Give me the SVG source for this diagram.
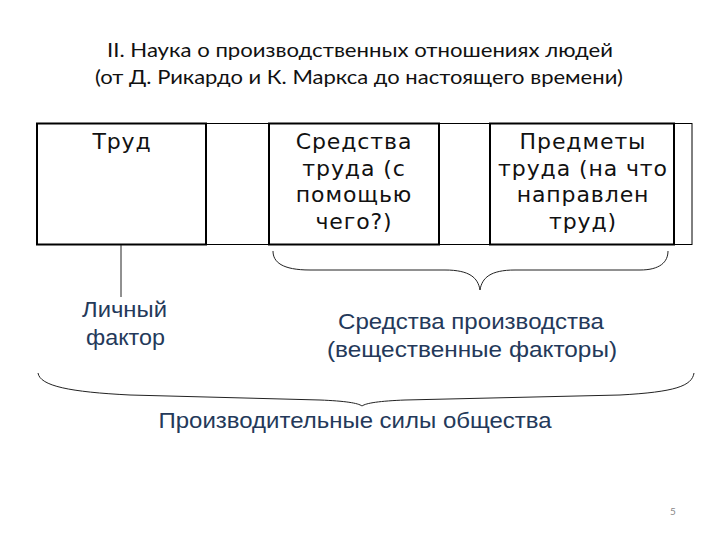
<svg xmlns="http://www.w3.org/2000/svg" width="720" height="540" viewBox="0 0 720 540">
<style>
.title{font-family:Lato,"Open Sans","Liberation Sans",sans-serif;font-size:20px;fill:#111;text-anchor:middle}
.box{fill:#fff;stroke:#000;stroke-width:2}
.frame{fill:none;stroke:#000;stroke-width:1}
.bt{font-family:"DejaVu Sans",Verdana,sans-serif;font-size:22px;letter-spacing:0.9px;fill:#111;text-anchor:middle}
.lt{font-family:"Liberation Sans",Arial,sans-serif;font-size:21.5px;fill:#24395a;text-anchor:middle}
.ln{fill:none;stroke:#222;stroke-width:1}
</style>
<rect width="720" height="540" fill="#fff"/>
<g id="title">
<text class="title" x="360" y="57" textLength="506" lengthAdjust="spacingAndGlyphs">II. Наука о производственных отношениях людей</text>
<text class="title" x="359" y="84" textLength="528" lengthAdjust="spacingAndGlyphs">(от Д. Рикардо и К. Маркса до настоящего времени)</text>
</g>
<rect class="frame" x="37" y="123.5" width="655" height="121"/>
<g id="trud">
<rect class="box" x="37" y="123.5" width="169" height="121"/>
<text class="bt" x="122" y="149">Труд</text>
</g>
<g id="sredstva">
<rect class="box" x="269" y="123.5" width="170" height="121"/>
<text class="bt" x="354" y="149">Средства</text>
<text class="bt" x="354" y="175.5">труда (с</text>
<text class="bt" x="354" y="202">помощью</text>
<text class="bt" x="354" y="228.5">чего?)</text>
</g>
<g id="predmety">
<rect class="box" x="490" y="123.5" width="184" height="121"/>
<text class="bt" x="583" y="149">Предметы</text>
<text class="bt" x="583" y="175.5">труда (на что</text>
<text class="bt" x="583" y="202">направлен</text>
<text class="bt" x="583" y="228.5">труд)</text>
</g>
<g id="connectors">
<line class="ln" x1="121" y1="245" x2="121" y2="297"/>
<path class="ln" d="M273,251 C273,262 282,270 310,270 L445,270 C470,270 478,278 480,290 C482,278 490,270 515,270 L640,270 C660,270 668,262 668,251"/>
<path class="ln" d="M38,373 C40,386 70,392 130,395 L320,400 C345,401 358,403 362,406 C366,403 380,401 405,400 L620,395 C675,392 692,386 694,373"/>
</g>
<g id="lichny">
<text class="lt" x="124.5" y="317" textLength="85" lengthAdjust="spacingAndGlyphs">Личный</text>
<text class="lt" x="125.5" y="345" textLength="79" lengthAdjust="spacingAndGlyphs">фактор</text>
</g>
<g id="sredstva-proizv">
<text class="lt" x="471" y="329" textLength="266" lengthAdjust="spacingAndGlyphs">Средства производства</text>
<text class="lt" x="472" y="357" textLength="290" lengthAdjust="spacingAndGlyphs">(вещественные факторы)</text>
</g>
<g id="proizv-sily">
<text class="lt" x="355" y="428" textLength="393" lengthAdjust="spacingAndGlyphs">Производительные силы общества</text>
</g>
<text x="673" y="515" font-family="Lato,'Liberation Sans',sans-serif" font-size="10" fill="#888" text-anchor="middle">5</text>
</svg>
